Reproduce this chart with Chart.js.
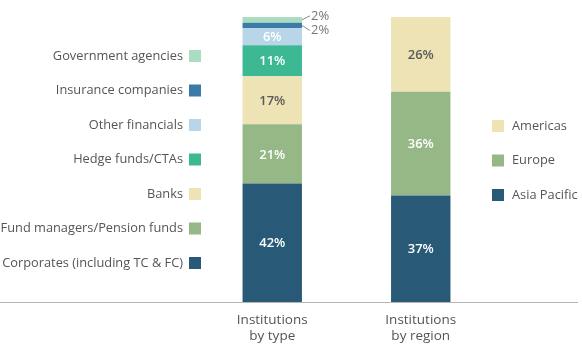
<!DOCTYPE html>
<html>
<head>
<meta charset="utf-8">
<script src="https://cdn.jsdelivr.net/npm/chart.js@4.4.1/dist/chart.umd.min.js"></script>
<style>
  html, body { margin: 0; padding: 0; background: #fff; }
  #wrap { width: 582px; height: 353px; position: relative; }
</style>
</head>
<body>
<div id="wrap"><canvas id="chart"></canvas></div>
<script>
// ==================== DATA ====================
const categories = [['Institutions', 'by type'], ['Institutions', 'by region']];

const typeLabels = ['Corporates (including TC & FC)', 'Fund managers/Pension funds', 'Banks',
    'Hedge funds/CTAs', 'Other financials', 'Insurance companies', 'Government agencies'];
const typeValues = [42, 21, 17, 11, 6, 2, 2];
const typeColors = ['#285a78', '#95b886', '#ede3b5', '#3cb993', '#b9d5e9', '#3b7ba6', '#a9dcc1'];
const typeTextColors = ['#fff', '#fff', '#5a5a5a', '#fff', '#fff', '#777', '#777'];

const regionLabels = ['Asia Pacific', 'Europe', 'Americas'];
const regionValues = [37, 36, 26];
const regionColors = ['#285a78', '#95b886', '#ede3b5'];
const regionTextColors = ['#fff', '#fff', '#5a5a5a'];

const FONT = '"Open Sans", sans-serif';

const datasets = [];
typeLabels.forEach((label, i) => {
    datasets.push({
        label,
        data: [typeValues[i], null],
        backgroundColor: typeColors[i],
        textColor: typeTextColors[i],
        yAxisID: 'y'
    });
});
regionLabels.forEach((label, i) => {
    datasets.push({
        label,
        data: [null, regionValues[i]],
        backgroundColor: regionColors[i],
        textColor: regionTextColors[i],
        yAxisID: 'y2'
    });
});

// Etiquettes, légendes et ligne de base
const decorPlugin = {
    id: 'decor',
    afterDatasetsDraw(chart) {
        const ctx = chart.ctx;
        const base = chart.scales.y.getPixelForValue(0);

        ctx.save();
        // ligne de base sur toute la largeur
        ctx.strokeStyle = '#b5b5b5';
        ctx.lineWidth = 1;
        ctx.beginPath();
        ctx.moveTo(0, Math.round(base) + 0.5);
        ctx.lineTo(578, Math.round(base) + 0.5);
        ctx.stroke();

        let smallIdx = 0;
        chart.data.datasets.forEach((ds, di) => {
            const meta = chart.getDatasetMeta(di);
            meta.data.forEach((bar, j) => {
                const v = ds.data[j];
                if (v == null) return;
                const cy = (bar.y + bar.base) / 2;
                if (v >= 5) {
                    ctx.fillStyle = ds.textColor;
                    ctx.font = '600 13px ' + FONT;
                    ctx.textAlign = 'center';
                    ctx.textBaseline = 'middle';
                    ctx.fillText(v + '%', bar.x, cy + 1);
                } else {
                    // petites valeurs : étiquette à droite avec trait
                    const right = bar.x + bar.width / 2;
                    const ty = smallIdx === 0 ? cy + 5 : cy - 4;
                    ctx.strokeStyle = '#8a8a8a';
                    ctx.beginPath();
                    ctx.moveTo(right, cy);
                    ctx.lineTo(right + 8, ty);
                    ctx.stroke();
                    ctx.fillStyle = '#777';
                    ctx.font = '13px ' + FONT;
                    ctx.textAlign = 'left';
                    ctx.textBaseline = 'middle';
                    ctx.fillText(v + '%', right + 9, ty);
                    smallIdx++;
                }
            });
        });

        // légende gauche
        ctx.font = '12.8px ' + FONT;
        ctx.textBaseline = 'middle';
        typeLabels.forEach((label, i) => {
            const y = 263 - i * 34.5;
            ctx.fillStyle = typeColors[i];
            ctx.fillRect(189, y - 6, 12, 12);
            ctx.fillStyle = '#555';
            ctx.textAlign = 'right';
            ctx.fillText(label, 183, y);
        });

        // légende droite
        regionLabels.forEach((label, i) => {
            const y = 195 - i * 34.5;
            ctx.fillStyle = regionColors[i];
            ctx.fillRect(492, y - 6, 12, 12);
            ctx.fillStyle = '#555';
            ctx.textAlign = 'left';
            ctx.fillText(label, 512, y);
        });
        ctx.restore();
    }
};

new Chart(document.getElementById('chart'), {
    type: 'bar',
    data: { labels: categories, datasets },
    plugins: [decorPlugin],
    options: {
        responsive: true,
        maintainAspectRatio: false,
        animation: false,
        layout: { padding: { left: 198, right: 87, top: 17, bottom: 0 } },
        datasets: {
            bar: {
                barPercentage: 1,
                categoryPercentage: 0.4,
                skipNull: true
            }
        },
        plugins: {
            legend: { display: false },
            tooltip: { enabled: false }
        },
        scales: {
            x: {
                stacked: true,
                grid: { display: false, drawTicks: false },
                border: { display: false },
                ticks: {
                    color: '#555',
                    padding: 10,
                    font: { family: FONT, size: 13.5, lineHeight: 1.2 }
                },
                afterFit(scale) { scale.height = 51; }
            },
            y: {
                stacked: true,
                display: false,
                min: 0,
                max: 101
            },
            y2: {
                stacked: true,
                display: false,
                min: 0,
                max: 99
            }
        }
    }
});
</script>
</body>
</html>
